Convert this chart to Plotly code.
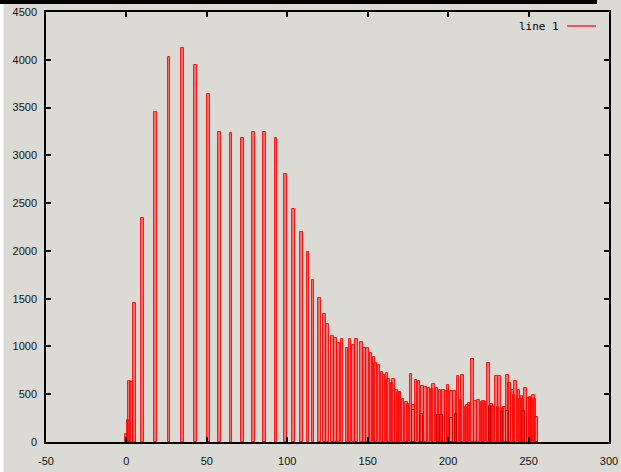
import plotly.graph_objects as go

# Histogram bins (x) and counts
bin_x = [0, 1, 2, 3, 5, 10, 18, 26.5, 35, 43, 51, 58, 65, 72, 79, 86, 93, 99, 104, 109,
         113, 116, 120, 123, 125, 128, 130, 132, 134, 137, 139, 141, 143, 146, 148, 150,
         152, 154, 155, 157, 159, 160, 162, 163, 165, 166, 168, 169, 170, 172, 174, 175,
         177, 178.5, 180, 182, 184, 186, 188, 190, 191, 193, 195, 197, 199, 200, 202, 204,
         206, 208, 209, 211, 212, 213, 215, 217, 219, 221, 222, 223, 225, 227, 228, 230,
         231, 232, 234, 235, 237, 238, 240, 241, 242, 244, 245, 246, 248, 250, 251, 252,
         253, 254, 255]
counts = [80, 235, 636, 625, 1450, 2340, 3450, 4030, 4120, 3950, 3645, 3240, 3230, 3185,
          3245, 3245, 3185, 2805, 2440, 2200, 1986, 1697, 1504, 1338, 1234, 1111, 1084,
          1038, 1073, 989, 1073, 1017, 1073, 1045, 989, 989, 933, 891, 832, 801, 734, 699,
          720, 660, 615, 664, 542, 521, 521, 455, 419, 395, 710, 385, 654, 643, 587, 577,
          566, 552, 608, 566, 549, 549, 531, 598, 531, 538, 692, 444, 702, 367, 392, 409,
          864, 426, 444, 416, 433, 423, 832, 395, 374, 692, 367, 692, 360, 370, 702, 615,
          542, 490, 636, 542, 455, 482, 570, 465, 476, 447, 493, 455, 262]

# Short bins partly hidden among taller neighbours
short_x = [178.5, 183.5, 194, 196, 202, 205, 226, 233.5, 237, 247]
short_counts = [332, 297, 287, 287, 252, 297, 381, 315, 322, 322]

x_ticks = [-50, 0, 50, 100, 150, 200, 250, 300]
y_ticks = [0, 500, 1000, 1500, 2000, 2500, 3000, 3500, 4000, 4500]
legend_label = "line 1"

BG = "#dcdad5"
RED = "#ff0000"

fig = go.Figure()
fig.add_trace(go.Bar(
    x=bin_x, y=counts, width=1.6,
    marker=dict(color="rgba(255,40,40,0.55)", line=dict(color=RED, width=0.9)),
    showlegend=False,
))
fig.add_trace(go.Bar(
    x=short_x, y=short_counts, width=1.6,
    marker=dict(color="rgba(0,0,0,0)", line=dict(color="#d00000", width=1)),
    showlegend=False,
))

L, R, T, B = 46, 609, 12, 442
W, H = 621, 472
pw, ph = R - L, B - T

def px(xp):
    return (xp - L) / pw

def py(yp):
    return (B - yp) / ph

axis_font = dict(family="Liberation Sans, Arial, sans-serif", size=11, color="#111111")

fig.update_layout(
    width=W, height=H, autosize=False,
    margin=dict(l=L, r=W - R, t=T, b=H - B, pad=0, autoexpand=False),
    paper_bgcolor=BG, plot_bgcolor=BG,
    barmode="overlay", bargap=0,
    font=axis_font,
    xaxis=dict(range=[-50, 300], tickvals=x_ticks, ticktext=[str(v) for v in x_ticks],
               showgrid=False, zeroline=False, showline=True, linecolor="black", linewidth=1.5,
               mirror="ticks", ticks="inside", ticklen=5, tickwidth=1.5, tickcolor="black",
               tickfont=axis_font, ticklabelstandoff=8, automargin=False),
    yaxis=dict(range=[0, 4500], tickvals=y_ticks, ticktext=[str(v) for v in y_ticks],
               showgrid=False, zeroline=False, showline=True, linecolor="black", linewidth=1.5,
               mirror="ticks", ticks="inside", ticklen=5, tickwidth=1.5, tickcolor="black",
               tickfont=axis_font, ticklabelstandoff=5, automargin=False),
    shapes=[
        # black strip across the top of the window
        dict(type="rect", xref="paper", yref="paper", x0=px(0), x1=px(597), y0=py(4), y1=py(-1),
             fillcolor="black", line=dict(width=0), layer="above"),
        # white left edge
        dict(type="rect", xref="paper", yref="paper", x0=px(-1), x1=px(3.5), y0=py(H + 1), y1=py(4),
             fillcolor="white", line=dict(width=0), layer="above"),
        # legend sample line
        dict(type="line", xref="paper", yref="paper", x0=px(567), x1=px(596), y0=py(26), y1=py(26),
             line=dict(color=RED, width=1.2)),
    ],
    annotations=[
        dict(text=legend_label, xref="paper", yref="paper", x=px(561), y=py(26),
             xanchor="right", yanchor="middle", showarrow=False,
             font=dict(family="DejaVu Sans Mono, monospace", size=11, color="black")),
    ],
)

fig.write_html(
    "out.html",
    config={"displayModeBar": False},
    post_script="document.body.style.margin='0';document.body.style.padding='0';document.body.style.overflow='hidden';",
)
